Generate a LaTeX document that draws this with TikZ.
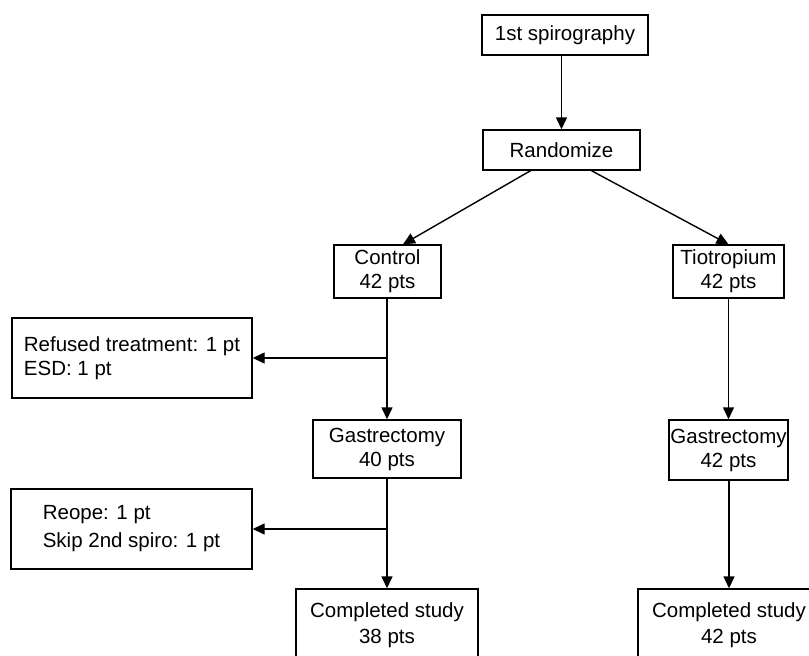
\documentclass[tikz,border=0pt]{standalone}
\usepackage{fontspec}
\setmainfont{Liberation Sans}
\usetikzlibrary{arrows.meta}

\tikzset{
  box/.style={draw, line width=1.4pt, inner sep=0pt, align=center,
    font=\fontsize{20.5}{24}\selectfont},
  arr/.style={line width=1.4pt, -{Triangle[length=12pt, width=11pt]}},
}

\begin{document}
\begin{tikzpicture}[x=1pt, y=-1pt]
  \useasboundingbox (0, 0) rectangle (809, 656);
  \clip (0, 0) rectangle (809, 656);

  \node[box, minimum width=166, minimum height=40] (spiro) at (565, 35) {1st spirography};
  \node[box, minimum width=157, minimum height=40] (rand) at (561.5, 150) {Randomize};

  \node[box, minimum width=107, minimum height=53] (ctrl) at (387.5, 271.5) {Control\\42 pts};
  \node[box, minimum width=111, minimum height=53] (tio) at (728.5, 271.5) {Tiotropium\\42 pts};

  \node[box, align=left, minimum width=240, minimum height=80] (refused) at (132, 358)
    {Refused treatment: 1 pt\\ESD: 1 pt};

  \node[box, minimum width=148, minimum height=58] (gas1) at (387, 449) {Gastrectomy\\40 pts};
  \node[box, minimum width=119, minimum height=60] (gas2) at (728.5, 450) {Gastrectomy\\42 pts};

  \node[box, align=left, minimum width=241, minimum height=80,
    font=\fontsize{20.5}{28}\selectfont] (reope) at (131.5, 529)
    {Reope: 1 pt\\Skip 2nd spiro: 1 pt};

  \node[box, minimum width=182, minimum height=72,
    font=\fontsize{20.5}{26}\selectfont] (comp1) at (387, 625) {Completed study\\38 pts};
  \node[box, minimum width=182, minimum height=72,
    font=\fontsize{20.5}{26}\selectfont] (comp2) at (729, 625) {Completed study\\42 pts};

  % straight down
  \foreach \a/\b in {spiro/rand, ctrl/gas1, tio/gas2, gas1/comp1, gas2/comp2}{
    \draw[arr] (\a.south -| \b.north) -- (\b.north);
  }

  % split into the two arms
  \draw[arr] ([xshift=-31]rand.south) -- ([xshift=15.5]ctrl.north);
  \draw[arr] ([xshift=30]rand.south) -- (tio.north);

  % drop-outs
  \draw[arr] (gas1.north |- refused.east) -- (refused.east);
  \draw[arr] (gas1.north |- reope.east) -- (reope.east);
\end{tikzpicture}
\end{document}
